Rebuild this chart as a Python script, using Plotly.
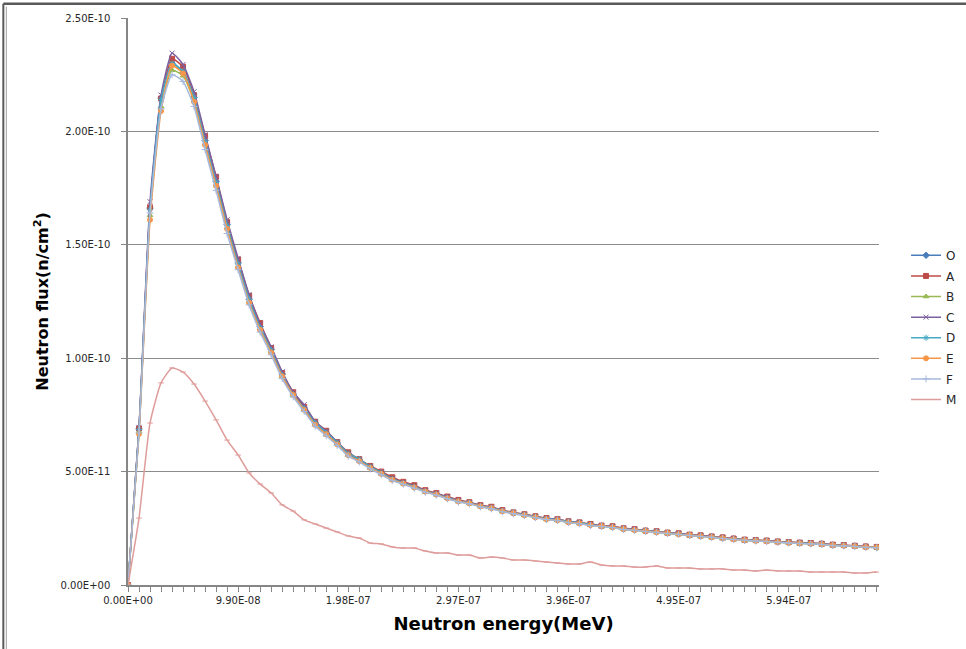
import plotly.graph_objects as go

# Category labels of the energy axis (every 10th category shown)
tick_index = [0, 10, 20, 30, 40, 50, 60]
tick_labels = ["0.00E+00", "9.90E-08", "1.98E-07", "2.97E-07", "3.96E-07", "4.95E-07", "5.94E-07"]
y_tick_vals = [0, 5e-11, 1e-10, 1.5e-10, 2e-10, 2.5e-10]
y_tick_labels = ["0.00E+00", "5.00E-11", "1.00E-10", "1.50E-10", "2.00E-10", "2.50E-10"]

UNIT = 1e-11  # series values below are in units of 1e-11 n/cm^2

O = [0, 6.88, 16.62, 21.47, 23.0, 22.6, 21.5, 19.6, 17.8, 15.9, 14.2, 12.6, 11.4, 10.4, 9.3, 8.42, 7.8, 7.14, 6.7, 6.26,
     5.78, 5.51, 5.2, 4.94, 4.67, 4.5, 4.32, 4.14, 4.01, 3.84, 3.7, 3.62, 3.48, 3.4, 3.26, 3.17, 3.09, 3.0, 2.91, 2.87,
     2.78, 2.73, 2.65, 2.6, 2.56, 2.47, 2.43, 2.38, 2.34, 2.29, 2.25, 2.2, 2.16, 2.12, 2.07, 2.03, 1.98, 1.96, 1.94, 1.9,
     1.87, 1.85, 1.83, 1.81, 1.76, 1.74, 1.72, 1.68, 1.66]
A = [0, 6.90, 16.65, 21.45, 23.2, 22.85, 21.6, 19.8, 18.0, 16.0, 14.35, 12.75, 11.55, 10.45, 9.35, 8.5, 7.85, 7.2, 6.8, 6.3,
     5.85, 5.55, 5.25, 5.0, 4.75, 4.55, 4.4, 4.18, 4.05, 3.9, 3.75, 3.65, 3.52, 3.45, 3.3, 3.2, 3.12, 3.03, 2.95, 2.9,
     2.81, 2.76, 2.69, 2.62, 2.59, 2.5, 2.46, 2.4, 2.37, 2.31, 2.28, 2.22, 2.19, 2.14, 2.1, 2.05, 2.0, 1.98, 1.96, 1.92,
     1.89, 1.87, 1.85, 1.82, 1.78, 1.76, 1.73, 1.7, 1.68]
B = [0, 6.75, 16.3, 21.1, 22.7, 22.45, 21.35, 19.45, 17.65, 15.75, 14.05, 12.5, 11.3, 10.3, 9.2, 8.35, 7.75, 7.08, 6.62, 6.22,
     5.72, 5.48, 5.15, 4.9, 4.63, 4.46, 4.3, 4.1, 3.98, 3.82, 3.68, 3.6, 3.46, 3.38, 3.24, 3.16, 3.07, 2.99, 2.9, 2.85,
     2.77, 2.72, 2.64, 2.59, 2.54, 2.46, 2.42, 2.37, 2.33, 2.28, 2.24, 2.19, 2.15, 2.11, 2.06, 2.02, 1.97, 1.95, 1.93, 1.89,
     1.86, 1.84, 1.82, 1.8, 1.75, 1.73, 1.71, 1.67, 1.65]
C = [0, 6.95, 16.9, 21.6, 23.45, 22.95, 21.75, 19.85, 18.0, 16.1, 14.4, 12.8, 11.5, 10.5, 9.4, 8.5, 7.95, 7.2, 6.8, 6.3,
     5.8, 5.52, 5.22, 4.95, 4.7, 4.52, 4.35, 4.16, 4.04, 3.88, 3.72, 3.64, 3.5, 3.42, 3.28, 3.2, 3.11, 3.02, 2.93, 2.9,
     2.8, 2.75, 2.68, 2.61, 2.58, 2.49, 2.45, 2.4, 2.36, 2.3, 2.27, 2.21, 2.17, 2.13, 2.08, 2.04, 1.99, 1.97, 1.95, 1.91,
     1.88, 1.86, 1.84, 1.82, 1.77, 1.75, 1.73, 1.69, 1.67]
D = [0, 6.85, 16.55, 21.4, 23.0, 22.65, 21.5, 19.55, 17.75, 15.85, 14.15, 12.6, 11.35, 10.35, 9.25, 8.4, 7.78, 7.15, 6.72, 6.28,
     5.8, 5.55, 5.22, 4.96, 4.68, 4.5, 4.33, 4.14, 4.0, 3.85, 3.7, 3.62, 3.49, 3.41, 3.27, 3.18, 3.1, 3.01, 2.92, 2.88,
     2.79, 2.74, 2.66, 2.6, 2.56, 2.48, 2.43, 2.39, 2.35, 2.29, 2.25, 2.2, 2.16, 2.12, 2.07, 2.03, 1.98, 1.97, 1.94, 1.9,
     1.87, 1.85, 1.83, 1.81, 1.76, 1.74, 1.72, 1.68, 1.66]
E = [0, 6.66, 16.1, 20.9, 22.9, 22.55, 21.3, 19.4, 17.6, 15.7, 14.0, 12.45, 11.25, 10.25, 9.2, 8.38, 7.72, 7.06, 6.65, 6.2,
     5.72, 5.46, 5.16, 4.9, 4.64, 4.47, 4.3, 4.12, 3.99, 3.82, 3.69, 3.6, 3.47, 3.39, 3.25, 3.17, 3.08, 2.99, 2.9, 2.86,
     2.77, 2.72, 2.64, 2.6, 2.55, 2.47, 2.42, 2.38, 2.33, 2.29, 2.24, 2.2, 2.15, 2.11, 2.07, 2.02, 1.98, 1.95, 1.93, 1.9,
     1.86, 1.84, 1.82, 1.8, 1.76, 1.73, 1.71, 1.68, 1.66]
F = [0, 6.7, 16.4, 21.0, 22.5, 22.2, 21.1, 19.2, 17.4, 15.5, 13.9, 12.35, 11.15, 10.15, 9.1, 8.3, 7.65, 7.0, 6.58, 6.15,
     5.68, 5.42, 5.12, 4.86, 4.6, 4.44, 4.27, 4.09, 3.96, 3.8, 3.66, 3.58, 3.44, 3.36, 3.23, 3.14, 3.06, 2.97, 2.89, 2.84,
     2.75, 2.7, 2.62, 2.58, 2.53, 2.45, 2.41, 2.36, 2.32, 2.27, 2.23, 2.18, 2.14, 2.1, 2.05, 2.01, 1.97, 1.94, 1.92, 1.88,
     1.85, 1.83, 1.81, 1.79, 1.74, 1.72, 1.7, 1.66, 1.64]
M = [0, 2.95, 7.14, 8.91, 9.57, 9.39, 8.86, 8.11, 7.28, 6.39, 5.73, 4.94, 4.45, 4.06, 3.53, 3.26, 2.87, 2.69, 2.51, 2.34,
     2.16, 2.07, 1.85, 1.81, 1.68, 1.63, 1.63, 1.50, 1.41, 1.41, 1.32, 1.32, 1.19, 1.23, 1.19, 1.10, 1.10, 1.06, 1.01, 0.97,
     0.93, 0.93, 1.01, 0.88, 0.84, 0.84, 0.79, 0.79, 0.84, 0.75, 0.75, 0.75, 0.71, 0.71, 0.71, 0.66, 0.66, 0.62, 0.66, 0.62,
     0.62, 0.62, 0.57, 0.57, 0.57, 0.57, 0.53, 0.53, 0.57]

series = [
    ("O", O, "#4A7EBB", "diamond", 5),
    ("A", A, "#BE4B48", "square", 5),
    ("B", B, "#98B954", "triangle-up", 5),
    ("C", C, "#7D60A0", "x-thin-open", 5),
    ("D", D, "#46AAC5", "asterisk-open", 5),
    ("E", E, "#F79646", "circle", 5),
    ("F", F, "#A5B9DC", "cross-thin-open", 5),
    ("M", M, "#DE9C9A", "line-ew-open", 4),
]

fig = go.Figure()
for name, vals, color, sym, size in series:
    idx = list(range(len(vals)))
    fig.add_trace(go.Scatter(
        x=idx, y=[v * UNIT for v in vals], name=name, legendgroup=name, mode="lines+markers",
        line=dict(color=color, width=1.5, shape="spline", smoothing=0.5),
        marker=dict(symbol=sym, size=size, color=color, line=dict(color=color, width=1)),
    ))

TICKFONT = dict(family="DejaVu Sans, sans-serif", size=10, color="#262626")

fig.update_layout(
    width=966, height=649,
    margin=dict(l=128, r=87, t=18, b=64, autoexpand=False),
    paper_bgcolor="white", plot_bgcolor="white",
    font=dict(family="DejaVu Sans, sans-serif", color="#262626"),
    showlegend=True,
    legend=dict(x=1.036, y=0.607, xanchor="left", yanchor="top",
                font=dict(family="DejaVu Sans, sans-serif", size=12, color="#262626"),
                itemwidth=30, tracegroupgap=1.6, bgcolor="rgba(0,0,0,0)"),
    xaxis=dict(
        range=[0, 68.2], tickvals=tick_index, ticktext=tick_labels,
        ticks="outside", ticklen=5, tickcolor="#868686", tickfont=TICKFONT,
        minor=dict(dtick=1, ticks="outside", ticklen=5, tickcolor="#868686"),
        showline=True, linecolor="#868686", linewidth=1.5, showgrid=False, zeroline=False,
        title=dict(text="<b>Neutron energy(MeV)</b>", font=dict(size=18, color="black",
                   family="DejaVu Sans, sans-serif"), standoff=13),
    ),
    yaxis=dict(
        range=[0, 2.5e-10], tickvals=y_tick_vals, ticktext=y_tick_labels,
        ticks="outside", ticklen=5, tickcolor="#868686", tickfont=TICKFONT,
        ticklabelstandoff=9,
        showline=True, linecolor="#868686", linewidth=1.5,
        showgrid=True, gridcolor="#8C8C8C", gridwidth=1, zeroline=False,
        title=dict(text="<b>Neutron flux(n/cm<sup>2</sup>)</b>", font=dict(size=16, color="black",
                   family="DejaVu Sans, sans-serif"), standoff=8),
    ),
    shapes=[
        dict(type="line", xref="paper", yref="paper", x0=-0.166, x1=1.12, y0=1.025, y1=1.025,
             line=dict(color="#595959", width=2.5)),
        dict(type="line", xref="paper", yref="paper", x0=-0.166, x1=-0.166, y0=1.025, y1=-0.12,
             line=dict(color="#595959", width=2)),
        dict(type="line", xref="paper", yref="paper", x0=-0.162, x1=-0.162, y0=1.02, y1=-0.12,
             line=dict(color="#A0A0A0", width=1)),
    ],
)

fig.write_html("out.html", config={"displayModeBar": False},
               post_script="document.body.style.margin='0px';")
